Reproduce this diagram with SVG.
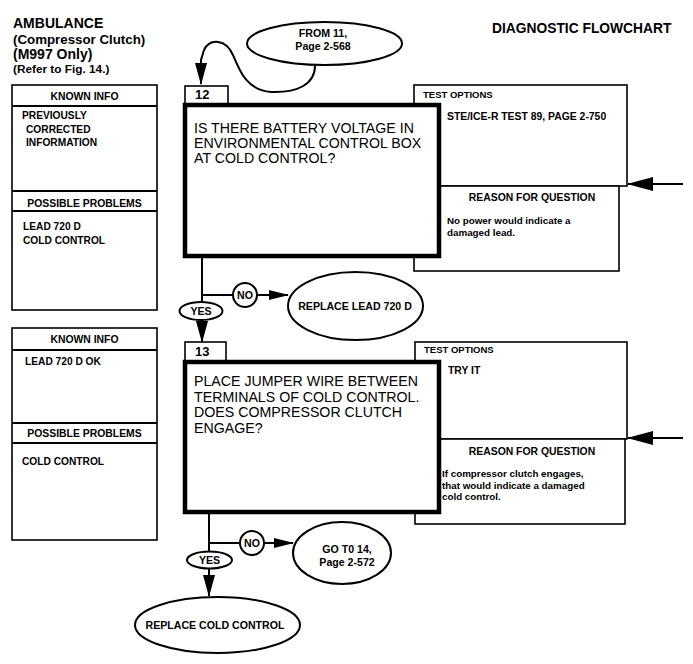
<svg xmlns="http://www.w3.org/2000/svg" width="693" height="664" viewBox="0 0 693 664">
<defs>
<style>
text{font-family:"Liberation Sans",Arial,sans-serif;fill:#000}
.b{font-weight:bold}
.t{font-weight:bold;font-size:14px}
.hd{font-weight:bold;font-size:10.4px;text-anchor:middle}
.sm{font-weight:bold;font-size:10.2px}
.q{font-size:14.2px}
.to{font-weight:bold;font-size:9.5px}
.rs{font-weight:bold;font-size:9.8px}
.el{font-weight:bold;font-size:10.6px;text-anchor:middle}
.box{fill:#fff;stroke:#000;stroke-width:1.6}
.main{fill:#fff;stroke:#000;stroke-width:4.5}
.ln{fill:none;stroke:#000;stroke-width:2}
.ov{fill:#fff;stroke:#000;stroke-width:2}
</style>
<marker id="av" viewBox="0 0 22 12" markerWidth="22" markerHeight="12" refX="21" refY="6" orient="auto" markerUnits="userSpaceOnUse"><path d="M0,0 L22,6 L0,12 Z" fill="#000"/></marker>
<marker id="ah" viewBox="0 0 20 10" markerWidth="20" markerHeight="10" refX="19" refY="5" orient="auto" markerUnits="userSpaceOnUse"><path d="M0,0 L20,5 L0,10 Z" fill="#000"/></marker>
<marker id="ab" viewBox="0 0 26 14" markerWidth="26" markerHeight="14" refX="25" refY="7" orient="auto" markerUnits="userSpaceOnUse"><path d="M0,0 L26,7 L0,14 Z" fill="#000"/></marker>
</defs>
<rect width="693" height="664" fill="#fff"/>

<g id="title">
<text class="t" x="13" y="28">AMBULANCE</text>
<text class="b" x="13" y="44" font-size="13.3">(Compressor Clutch)</text>
<text class="b" x="13" y="59" font-size="14">(M997 Only)</text>
<text class="b" x="13" y="73" font-size="11.8">(Refer to Fig. 14.)</text>
<text class="b" x="492" y="33" font-size="13.8">DIAGNOSTIC FLOWCHART</text>
</g>

<g id="connectors">
<path class="ln" d="M315,64 C316,85 296,93 271,92 C247,90 240,72 233,55 C226,39 210,38 204,50 L201,60 L201,84" marker-end="url(#av)"/>
<path class="ln" d="M202,256 V303"/>
<path class="ln" d="M201,295 H233"/>
<path class="ln" d="M257,295 H288" marker-end="url(#ah)"/>
<path class="ln" d="M202,320 V342" marker-end="url(#av)"/>
<path class="ln" d="M683,184 H628" stroke-width="5" marker-end="url(#ab)"/>
<path class="ln" d="M209,512 V552"/>
<path class="ln" d="M208,543 H240"/>
<path class="ln" d="M264,543 H293" marker-end="url(#ah)"/>
<path class="ln" d="M209,569 V596" marker-end="url(#av)"/>
<path class="ln" d="M683,438 H628" stroke-width="5" marker-end="url(#ab)"/>
</g>

<g id="from11">
<ellipse class="ov" cx="324.5" cy="43.5" rx="77.5" ry="21.5"/>
<text class="el" x="323" y="37" font-size="11">FROM 11,</text>
<text class="el" x="323" y="50" font-size="11">Page 2-568</text>
</g>

<g id="known1">
<rect class="box" x="12" y="85" width="145" height="225"/>
<path class="ln" stroke-width="1.6" d="M12,106 H157 M12,191 H157 M12,211 H157"/>
<text class="hd" x="84.5" y="100">KNOWN INFO</text>
<text class="sm" x="22" y="119">PREVIOUSLY</text>
<text class="sm" x="26" y="133">CORRECTED</text>
<text class="sm" x="26" y="146">INFORMATION</text>
<text class="hd" x="84.5" y="207" font-size="10.6">POSSIBLE PROBLEMS</text>
<text class="sm" x="23" y="230">LEAD 720 D</text>
<text class="sm" x="23" y="244">COLD CONTROL</text>
</g>

<g id="options12">
<rect class="box" x="414" y="85" width="213" height="101"/>
<rect class="box" x="414" y="186" width="205" height="85"/>
<text class="to" x="423" y="98">TEST OPTIONS</text>
<text class="b" x="447" y="120" font-size="10.4">STE/ICE-R TEST 89, PAGE 2-750</text>
<text class="hd" x="532" y="201" font-size="10.6">REASON FOR QUESTION</text>
<text class="rs" x="447" y="224">No power would indicate a</text>
<text class="rs" x="447" y="236">damaged lead.</text>
</g>

<g id="step12">
<rect class="box" x="185" y="86" width="43" height="19"/>
<text class="b" x="195" y="99" font-size="13">12</text>
<rect class="main" x="185" y="105" width="254" height="151"/>
<text class="q" x="194" y="133">IS THERE BATTERY VOLTAGE IN</text>
<text class="q" x="194" y="148">ENVIRONMENTAL CONTROL BOX</text>
<text class="q" x="194" y="163">AT COLD CONTROL?</text>
</g>

<g id="no1">
<circle class="ov" cx="245" cy="295" r="12"/>
<text class="el" x="245" y="299" font-size="10.5">NO</text>
</g>
<g id="yes1">
<ellipse class="ov" cx="201" cy="311" rx="21.5" ry="9"/>
<text class="el" x="201" y="315" font-size="10">YES</text>
</g>
<g id="replaceLead">
<ellipse class="ov" cx="355.5" cy="306" rx="67.5" ry="34"/>
<text class="el" x="355" y="310">REPLACE LEAD 720 D</text>
</g>

<g id="known2">
<rect class="box" x="12" y="328" width="145" height="212"/>
<path class="ln" stroke-width="1.6" d="M12,350 H157 M12,423 H157 M12,443 H157"/>
<text class="hd" x="84.5" y="343">KNOWN INFO</text>
<text class="sm" x="25" y="365">LEAD 720 D OK</text>
<text class="hd" x="84.5" y="437" font-size="10.6">POSSIBLE PROBLEMS</text>
<text class="sm" x="22" y="465">COLD CONTROL</text>
</g>

<g id="options13">
<rect class="box" x="415" y="342" width="212" height="97"/>
<rect class="box" x="415" y="439" width="210" height="85"/>
<text class="to" x="424" y="353">TEST OPTIONS</text>
<text class="b" x="448" y="374" font-size="10.4">TRY IT</text>
<text class="hd" x="532" y="455" font-size="10.6">REASON FOR QUESTION</text>
<text class="rs" x="442" y="477">If compressor clutch engages,</text>
<text class="rs" x="442" y="489">that would indicate a damaged</text>
<text class="rs" x="442" y="500">cold control.</text>
</g>

<g id="step13">
<rect class="box" x="185" y="342" width="41" height="20"/>
<text class="b" x="195" y="356" font-size="13">13</text>
<rect class="main" x="185" y="362" width="254" height="150"/>
<text class="q" x="194" y="386">PLACE JUMPER WIRE BETWEEN</text>
<text class="q" x="194" y="401.5">TERMINALS OF COLD CONTROL.</text>
<text class="q" x="194" y="417">DOES COMPRESSOR CLUTCH</text>
<text class="q" x="194" y="432.5">ENGAGE?</text>
</g>

<g id="no2">
<circle class="ov" cx="252" cy="543" r="12"/>
<text class="el" x="252" y="547" font-size="10.5">NO</text>
</g>
<g id="yes2">
<ellipse class="ov" cx="209.5" cy="560" rx="22.5" ry="8.5"/>
<text class="el" x="209.5" y="564" font-size="10">YES</text>
</g>
<g id="goto14">
<ellipse class="ov" cx="342" cy="553" rx="49" ry="31"/>
<text class="el" x="347" y="553">GO T0 14,</text>
<text class="el" x="347" y="566">Page 2-572</text>
</g>
<g id="replaceCold">
<ellipse class="ov" cx="217.5" cy="625" rx="82.5" ry="28"/>
<text class="el" x="215" y="629">REPLACE COLD CONTROL</text>
</g>
</svg>
